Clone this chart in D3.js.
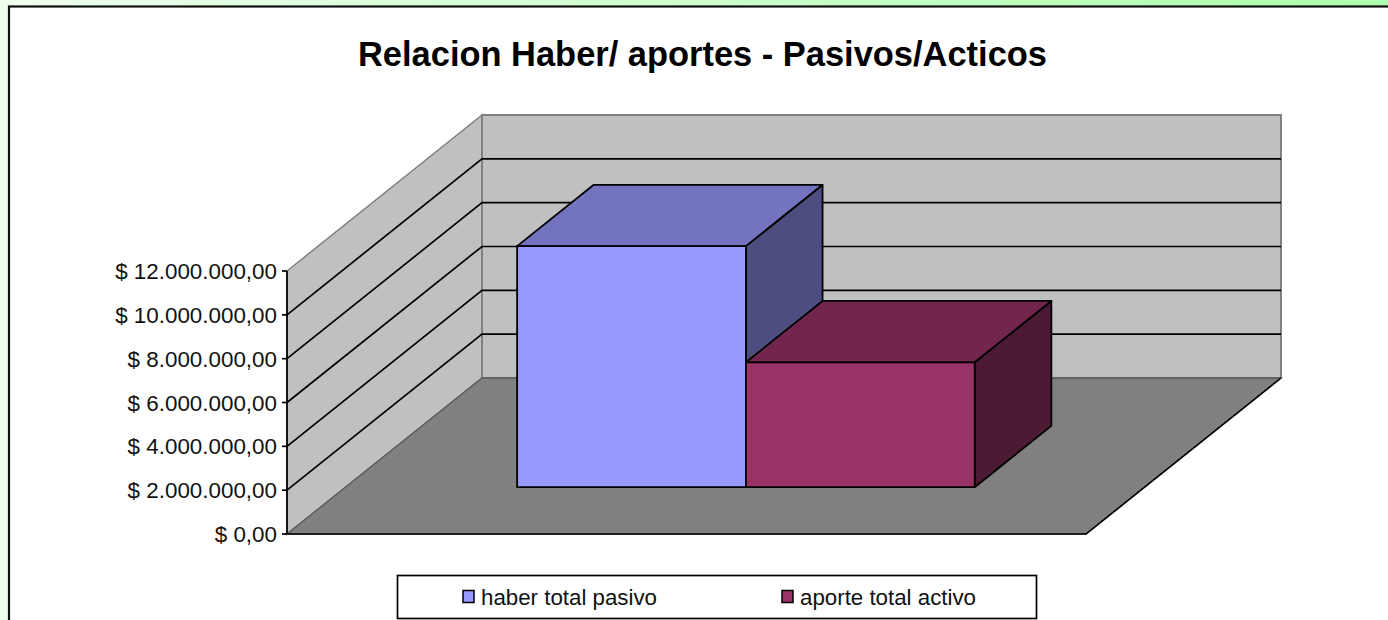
<!DOCTYPE html>
<html>
<head>
<meta charset="utf-8">
<script src="https://cdn.jsdelivr.net/npm/d3@7"></script>
<style>
  html, body { margin: 0; padding: 0; background: #fff; overflow: hidden; }
  svg { display: block; }
  text { font-family: "Liberation Sans", Arial, sans-serif; fill: #000; }
</style>
</head>
<body>
<svg></svg>
<script>
const chartTitle = "Relacion Haber/ aportes - Pasivos/Acticos";
const seriesNames = ["haber total pasivo", "aporte total activo"];
const seriesValues = [11000000, 5700000];
const tickValues = [0, 2000000, 4000000, 6000000, 8000000, 10000000, 12000000];
const tickLabels = ["$ 0,00", "$ 2.000.000,00", "$ 4.000.000,00", "$ 6.000.000,00", "$ 8.000.000,00", "$ 10.000.000,00", "$ 12.000.000,00"];
const frontColors = ["#9999ff", "#993366"];

let svg = d3.select("svg").attr("width", 1388).attr("height", 620);

let defs = svg.append("defs");
let grad = defs.append("linearGradient").attr("id", "bg").attr("x1", 0).attr("x2", 1).attr("y1", 0).attr("y2", 0);
grad.append("stop").attr("offset", "0%").attr("stop-color", "#eeffee");
grad.append("stop").attr("offset", "100%").attr("stop-color", "#acffac");
svg.append("rect").attr("width", 1388).attr("height", 620).style("fill", "url(#bg)");

// white chart area, runs off the right and bottom of the page
svg.append("rect").attr("x", 9).attr("y", 6.5).attr("width", 1400).attr("height", 640)
  .style("fill", "#fff").style("stroke", "#111").style("stroke-width", 2.2);

svg.append("text").attr("x", 702.5).attr("y", 65.5).attr("text-anchor", "middle")
  .style("font-size", "34.45px").style("font-weight", "bold").text(chartTitle);

// 3d box: x across the floor, value up the wall, depth from front to back wall
const y = d3.scaleLinear().domain([0, 12000000]).range([534, 271]);
const x = d3.scaleLinear().domain([0, 1]).range([287, 1086]);
const depthX = d3.scaleLinear().domain([0, 1]).range([0, 195]);
const depthY = d3.scaleLinear().domain([0, 1]).range([0, 156]);
const px = (u, d) => x(u) + depthX(d);
const py = (v, d) => y(v) - depthY(d);
const poly = (pts) => pts.map((p) => [px(p[0], p[2]), py(p[1], p[2])].join(",")).join(" ");

const maxTick = tickValues[tickValues.length - 1];
let walls = svg.append("g");
walls.append("polygon").attr("points", poly([[0, 0, 0], [0, maxTick, 0], [0, maxTick, 1], [0, 0, 1]]))
  .style("fill", "#c0c0c0").style("stroke", "#808080").style("stroke-width", 1.5);
walls.append("polygon").attr("points", poly([[0, 0, 1], [0, maxTick, 1], [1, maxTick, 1], [1, 0, 1]]))
  .style("fill", "#c0c0c0").style("stroke", "#808080").style("stroke-width", 2);
walls.append("polygon").attr("points", poly([[0, 0, 0], [0, 0, 1], [1, 0, 1], [1, 0, 0]]))
  .style("fill", "#808080").style("stroke", "#5a5a5a").style("stroke-width", 1.3);

// grid lines on both walls
tickValues.slice(1, -1).forEach((t) => {
  walls.append("polyline").attr("points", poly([[0, t, 0], [0, t, 1], [1, t, 1]]))
    .style("fill", "none").style("stroke", "#000").style("stroke-width", 1.7);
});

// front and right edge of the floor, and the value axis
svg.append("polyline").attr("points", poly([[0, 0, 0], [1, 0, 0], [1, 0, 1]]))
  .style("fill", "none").style("stroke", "#000").style("stroke-width", 1.6);
svg.append("line").attr("x1", x(0)).attr("y1", y(0)).attr("x2", x(0)).attr("y2", y(maxTick))
  .style("stroke", "#000").style("stroke-width", 1.7);

let axis = svg.append("g");
tickValues.forEach((t, i) => {
  axis.append("line").attr("x1", x(0) - 5).attr("x2", x(0)).attr("y1", y(t)).attr("y2", y(t))
    .style("stroke", "#000").style("stroke-width", 1.7);
  axis.append("text").attr("x", 277).attr("y", y(t) + 8).attr("text-anchor", "end")
    .style("font-size", "22.4px").style("fill", "#111").text(tickLabels[i]);
});

// the bars sit side by side in one category
const band = d3.scaleBand().domain(seriesNames).range([0.2148, 0.7875]);
const front = 0.3, back = 0.693;

function drawBar(name, value, color) {
  const c = d3.color(color);
  const x0 = band(name), x1 = x0 + band.bandwidth();
  let bar = svg.append("g").style("stroke", "#000").style("stroke-width", 1.8).style("stroke-linejoin", "round");
  bar.append("polygon").attr("points", poly([[x1, 0, front], [x1, value, front], [x1, value, back], [x1, 0, back]]))
    .style("fill", d3.rgb(c.r * 0.5, c.g * 0.5, c.b * 0.5));
  bar.append("polygon").attr("points", poly([[x0, value, front], [x0, value, back], [x1, value, back], [x1, value, front]]))
    .style("fill", d3.rgb(c.r * 0.75, c.g * 0.75, c.b * 0.75));
  bar.append("polygon").attr("points", poly([[x0, 0, front], [x0, value, front], [x1, value, front], [x1, 0, front]]))
    .style("fill", color);
}
seriesNames.forEach((n, i) => drawBar(n, seriesValues[i], frontColors[i]));

// legend
svg.append("rect").attr("x", 397.5).attr("y", 575.5).attr("width", 639).attr("height", 43)
  .style("fill", "#fff").style("stroke", "#000").style("stroke-width", 1.7);
const legendX = d3.scalePoint().domain(seriesNames).range([463, 782]);
seriesNames.forEach((n, i) => {
  svg.append("rect").attr("x", legendX(n)).attr("y", 590.5).attr("width", 11).attr("height", 12)
    .style("fill", frontColors[i]).style("stroke", "#000").style("stroke-width", 1.5);
  svg.append("text").attr("x", legendX(n) + 18).attr("y", 604.5).style("font-size", "22.3px").style("fill", "#111").text(n);
});
</script>
</body>
</html>
